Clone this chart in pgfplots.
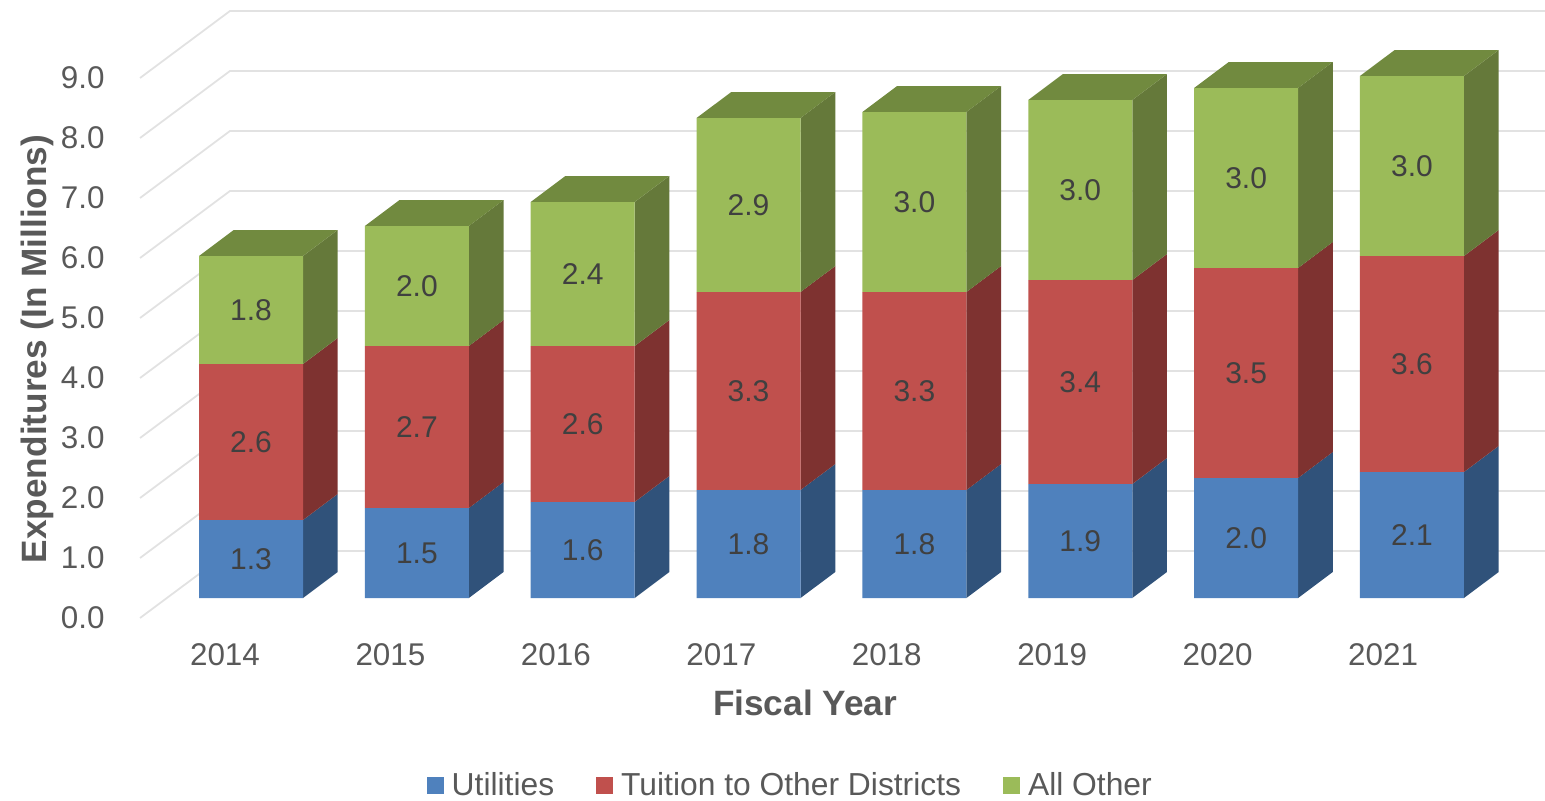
\documentclass[border=0pt]{standalone}
\usepackage{pgfplots}
\usepackage{pgfplotstable}
\usepackage{fontspec}
\setmainfont{Liberation Sans}
\pgfplotsset{compat=1.18}
\definecolor{blueF}{HTML}{4F81BD}\definecolor{blueS}{HTML}{30527A}
\definecolor{redF}{HTML}{C0504D}\definecolor{redS}{HTML}{7E3230}
\definecolor{greenF}{HTML}{9BBB59}\definecolor{greenS}{HTML}{65793A}\definecolor{greenT}{HTML}{718A3F}
\definecolor{gridc}{HTML}{E2E2E2}\definecolor{txt}{HTML}{595959}\definecolor{lab}{HTML}{404040}
\pgfplotstableread{
year util tuition other
2014 1.3 2.6 1.8
2015 1.5 2.7 2.0
2016 1.6 2.6 2.4
2017 1.8 3.3 2.9
2018 1.8 3.3 3.0
2019 1.9 3.4 3.0
2020 2.0 3.5 3.0
2021 2.1 3.6 3.0
}\datatable
\newcommand\SideFace[4]{%
  \pgfmathsetmacro\xa{#2+0.3135}\pgfmathsetmacro\xb{#2+0.5227}%
  \pgfmathsetmacro\yc{#3+0.4333}\pgfmathsetmacro\yd{#4+0.4333}%
  \edef\temp{\noexpand\addplot[draw=none,fill=#1,forget plot] coordinates {(\xa,#3)(\xb,\yc)(\xb,\yd)(\xa,#4)};}\temp}
\newcommand\TopFace[2]{%
  \pgfmathsetmacro\xa{#1-0.3135}\pgfmathsetmacro\xb{#1+0.3135}%
  \pgfmathsetmacro\xc{#1+0.5227}\pgfmathsetmacro\xd{#1-0.1043}\pgfmathsetmacro\yd{#2+0.4333}%
  \edef\temp{\noexpand\addplot[draw=none,fill=greenT,forget plot] coordinates {(\xa,#2)(\xb,#2)(\xc,\yd)(\xd,\yd)};}\temp}
\newcommand\BarFaces[4]{%
  \pgfmathsetmacro\one{#2}\pgfmathsetmacro\two{#2+#3}\pgfmathsetmacro\three{#2+#3+#4}%
  \SideFace{blueS}{#1}{0}{\one}\SideFace{redS}{#1}{\one}{\two}\SideFace{greenS}{#1}{\two}{\three}\TopFace{#1}{\three}}
\pgfplotsset{common/.style={x=82.925pt,y=30pt,xmin=2013.4875,xmax=2021.959,ymin=0,ymax=10.3,clip=false}}
\begin{document}
\begin{tikzpicture}
\useasboundingbox (0,0) rectangle (772.5pt,400pt);
% front plane: ticks, axis titles and the wall lines
\begin{axis}[common,at={(70pt,91pt)},anchor=south west,
  axis line style={draw=none},major tick length=0pt,
  xtick={2014,2014.9975,2015.995,2016.9925,2017.99,2018.9875,2019.985,2020.9825},
  xticklabels={2014,2015,2016,2017,2018,2019,2020,2021},
  ytick={0,...,9},
  /pgf/number format/assume math mode=true,
  tick label style={font=\fontsize{15.7}{18}\selectfont,text=txt},
  x tick label style={anchor=center,yshift=-18.5pt},
  y tick label style={anchor=east,inner sep=0pt,xshift=-17.5pt,yshift=0pt,/pgf/number format/.cd,fixed,fixed zerofill,precision=1},
  xlabel={\textbf{Fiscal Year}},ylabel={\textbf{Expenditures (In Millions)}},
  label style={font=\fontsize{17.6}{20}\selectfont,text=txt},
  x label style={at={(axis description cs:0.4733,-0.137)},anchor=center},
  y label style={at={(axis description cs:-0.0733,0.4353)},anchor=center},
]
\addplot[gridc,line width=0.9pt] coordinates {(2013.4875,0)(2014.03,1.1167)(2021.959,1.1167)};
\addplot[gridc,line width=0.9pt] coordinates {(2013.4875,1)(2014.03,2.1167)(2021.959,2.1167)};
\addplot[gridc,line width=0.9pt] coordinates {(2013.4875,2)(2014.03,3.1167)(2021.959,3.1167)};
\addplot[gridc,line width=0.9pt] coordinates {(2013.4875,3)(2014.03,4.1167)(2021.959,4.1167)};
\addplot[gridc,line width=0.9pt] coordinates {(2013.4875,4)(2014.03,5.1167)(2021.959,5.1167)};
\addplot[gridc,line width=0.9pt] coordinates {(2013.4875,5)(2014.03,6.1167)(2021.959,6.1167)};
\addplot[gridc,line width=0.9pt] coordinates {(2013.4875,6)(2014.03,7.1167)(2021.959,7.1167)};
\addplot[gridc,line width=0.9pt] coordinates {(2013.4875,7)(2014.03,8.1167)(2021.959,8.1167)};
\addplot[gridc,line width=0.9pt] coordinates {(2013.4875,8)(2014.03,9.1167)(2021.959,9.1167)};
\addplot[gridc,line width=0.9pt] coordinates {(2013.4875,9)(2014.03,10.1167)(2021.959,10.1167)};
\end{axis}
% side and top faces of the bars
\begin{axis}[common,hide axis,at={(83pt,101pt)},anchor=south west]
\BarFaces{2014}{1.3}{2.6}{1.8}
\BarFaces{2015}{1.5}{2.7}{2.0}
\BarFaces{2016}{1.6}{2.6}{2.4}
\BarFaces{2017}{1.8}{3.3}{2.9}
\BarFaces{2018}{1.8}{3.3}{3.0}
\BarFaces{2019}{1.9}{3.4}{3.0}
\BarFaces{2020}{2.0}{3.5}{3.0}
\BarFaces{2021}{2.1}{3.6}{3.0}
\end{axis}
% front faces of the bars, values and legend
\begin{axis}[common,hide axis,at={(83pt,101pt)},anchor=south west,
  ybar stacked,bar width=52pt,
  nodes near coords,
  every node near coord/.append style={anchor=center,
    font=\fontsize{15}{18}\selectfont,text=lab,
    /pgf/number format/.cd,fixed,fixed zerofill,precision=1,assume math mode=true},
  legend style={at={(axis description cs:0.445,-0.3034)},anchor=center,draw=none,fill=none,
    legend columns=-1,font=\fontsize{15.9}{18}\selectfont,text=txt,inner sep=0pt,
    /tikz/every even column/.append style={column sep=19pt}},
  legend image code/.code={\path[#1,draw=none] (0,-4.25pt) rectangle (8.5pt,4.25pt);\path (10.5pt,0);},
]
\addplot[fill=blueF,draw=none] table[x=year,y=util] {\datatable};
\addplot[fill=redF,draw=none] table[x=year,y=tuition] {\datatable};
\addplot[fill=greenF,draw=none] table[x=year,y=other] {\datatable};
\legend{Utilities,Tuition to Other Districts,All Other}
\end{axis}
\end{tikzpicture}
\end{document}
